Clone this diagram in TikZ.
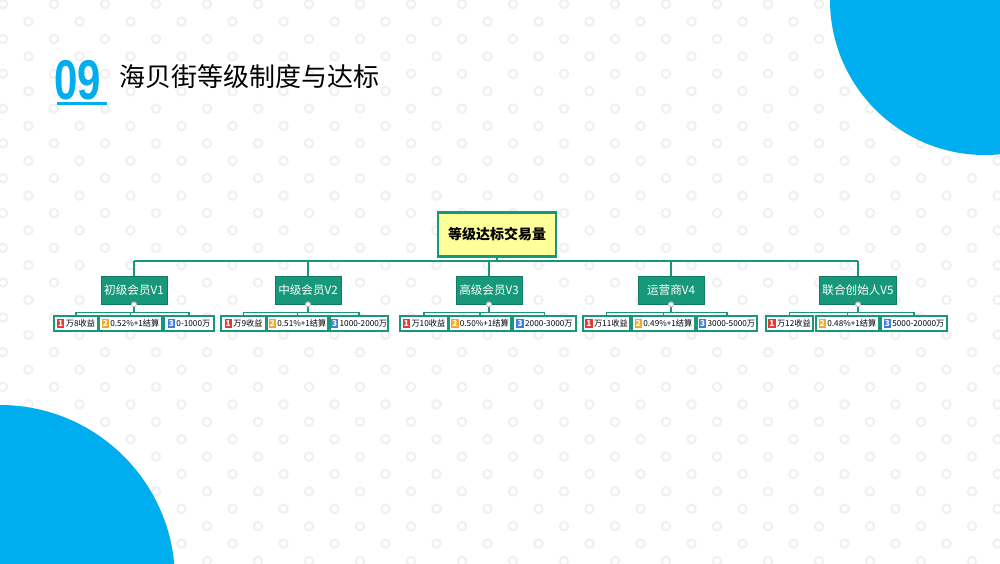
\documentclass[tikz,border=0pt]{standalone}
\usepackage{fontspec}
\setmainfont{Noto Sans CJK SC}
\newfontfamily\numfont{Liberation Sans}[FakeStretch=0.75]
\definecolor{teal1}{HTML}{17987A}
\definecolor{skyb}{HTML}{00AEEF}
\definecolor{dotc}{HTML}{F0F0F0}
\definecolor{yel}{HTML}{FFFF99}
\definecolor{bred}{HTML}{E53935}
\definecolor{borg}{HTML}{F5A623}
\definecolor{bblu}{HTML}{3B7DE0}
\newcommand\badge[2]{{\setlength\fboxsep{0.6pt}\colorbox{#1}{\textcolor{white}{\bfseries #2}}}\,}
\tikzset{
 lvl/.style={fill=teal1,draw=teal1!80!black,text=white,font=\fontsize{5.8}{6}\selectfont,minimum height=14pt,inner sep=1.5pt},
 leaf/.style={draw=teal1,line width=0.6pt,fill=white,font=\fontsize{4.1}{4.5}\selectfont,minimum height=7.5pt,inner sep=0.3pt},
 conn/.style={draw=teal1,line width=0.6pt},
 knob/.style={circle,draw=gray!50,fill=white,inner sep=0pt,minimum size=2.5pt}
}
\begin{document}
\begin{tikzpicture}[x=0.5pt,y=-0.5pt]
\useasboundingbox (0,0) rectangle (1000,563);
\fill[white] (0,0) rectangle (1000,563);
\foreach \i in {0,...,32}{
  \pgfmathsetmacro\yy{4.2+17.4*\i}
  \pgfmathsetmacro\xo{mod(\i,2)==0 ? 3 : 28.5}
  \foreach \k in {0,...,19}{
    \draw[dotc,line width=1pt] ({\xo+51*\k},\yy) circle[radius=4.2];
  }
}
\fill[skyb] (985,0) circle[radius=155];
\fill[skyb] (0,580) circle[radius=175];
% title
\node[anchor=west,inner sep=0,text=skyb,font=\numfont\bfseries\fontsize{28}{28}\selectfont] (num) at (54,80) {09};
\draw[skyb,line width=1.5pt] (57,103) -- (107,103);
\node[anchor=west,inner sep=0,font=\fontsize{13}{14}\selectfont] (title) at (119,77) {海贝街等级制度与达标};
% root
\node[draw=teal1,line width=1.2pt,fill=yel,minimum width=59pt,minimum height=22pt,font=\bfseries\fontsize{7}{8}\selectfont] (root) at (497,234.5) {等级达标交易量};
\coordinate (bus) at (497,261);
\foreach \n/\x/\t in {a/134/初级会员V1,b/308/中级会员V2,c/489/高级会员V3,d/671/运营商V4,e/858/联合创始人V5}{
  \node[lvl,minimum width=33pt] (\n) at (\x,290) {\t};
  \coordinate (\n t) at (\x,261);
}
\draw[conn] (root.south) -- (bus);
\draw[conn] (at) -- (et);
\foreach \n in {a,b,c,d,e}{\draw[conn] (\n t) -- (\n.north);}
% leaves
\newcommand\leafs[9]{%
 \node[leaf,minimum width={(#3-#2)/2 pt}] (#1l) at ({(#2+#3)/2},323.5) {\badge{bred}{1}#7};
 \node[leaf,minimum width={(#5-#4)/2 pt}] (#1m) at ({(#4+#5)/2},323.5) {\badge{borg}{2}#8};
 \node[leaf,minimum width={(#6-#5-2)/2 pt}] (#1r) at ({(#5+#6+2)/2},323.5) {\badge{bblu}{3}#9};
 \draw[conn] (#1.south) -- ++(0,8) coordinate (#1j);
 \draw[conn] (#1l.north) |- (#1j) -| (#1r.north);
 \draw[conn] (#1m.north) -- (#1m.north |- #1j);
 \node[knob] at (#1.south) {};
}
\leafs{a}{54}{98}{99}{162}{214}{万8收益}{0.52\%+1结算}{0-1000万}
\leafs{b}{221}{266}{267}{328}{388}{万9收益}{0.51\%+1结算}{1000-2000万}
\leafs{c}{400}{448}{449}{511}{576}{万10收益}{0.50\%+1结算}{2000-3000万}
\leafs{d}{583}{630}{632}{695}{757}{万11收益}{0.49\%+1结算}{3000-5000万}
\leafs{e}{766}{813}{816}{879}{947}{万12收益}{0.48\%+1结算}{5000-20000万}
\end{tikzpicture}
\end{document}
